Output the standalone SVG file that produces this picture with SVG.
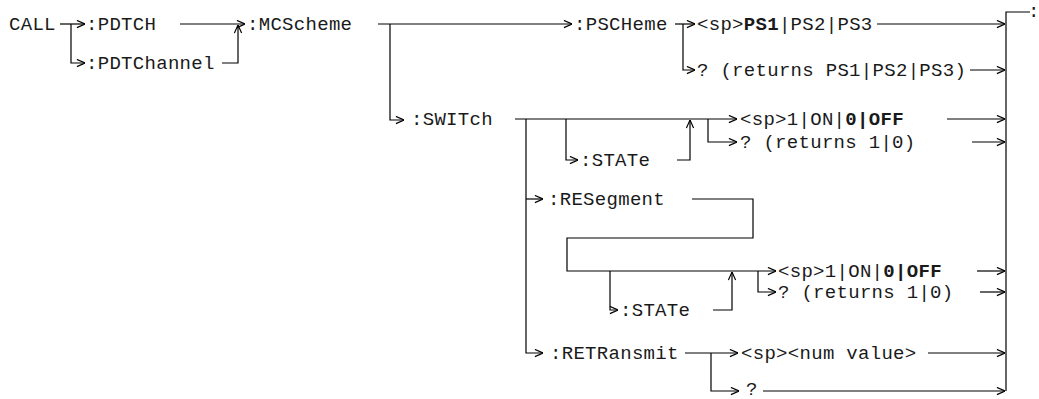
<svg xmlns="http://www.w3.org/2000/svg" width="1039" height="399" viewBox="0 0 1039 399">
<style>
text{font-family:"Liberation Mono","Courier New",monospace;font-size:19px;letter-spacing:0.3px;fill:#1a1a1a}
.b{font-weight:bold}
.c{fill:none;stroke:#000;stroke-width:1.2}
.a{marker-end:url(#ah)}
</style>
<defs>
<marker id="ah" viewBox="0 0 10 10" refX="10" refY="5" markerWidth="9" markerHeight="9" markerUnits="userSpaceOnUse" orient="auto">
<path d="M1,1 L10,5 L1,9" fill="none" stroke="#000" stroke-width="1.3"/>
</marker>
</defs>
<rect width="1039" height="399" fill="#fff"/>
<g id="connectors">
<line class="c a" x1="60" y1="24" x2="85" y2="24"/>
<polyline class="c a" points="71,24 71,63 85,63"/>
<line class="c a" x1="180" y1="24" x2="245" y2="24"/>
<polyline class="c a" points="222,63 238,63 238,25"/>
<line class="c a" x1="378" y1="24" x2="572" y2="24"/>
<polyline class="c a" points="390,24 390,120 404,120"/>
<line class="c a" x1="675" y1="24" x2="695" y2="24"/>
<polyline class="c a" points="683,24 683,70 695,70"/>
<line class="c a" x1="877" y1="24" x2="1005" y2="24"/>
<line class="c a" x1="970" y1="70" x2="1005" y2="70"/>
<polyline class="c" points="1030,12 1006,12 1006,391"/>
<line class="c a" x1="515" y1="119" x2="737" y2="119"/>
<polyline class="c a" points="566,119 566,160 578,160"/>
<polyline class="c a" points="677,160 690,160 690,120"/>
<polyline class="c a" points="708,119 708,142 737,142"/>
<line class="c a" x1="947" y1="119" x2="1005" y2="119"/>
<line class="c a" x1="972" y1="142" x2="1005" y2="142"/>
<polyline class="c a" points="526,119 526,353 543,353"/>
<polyline class="c a" points="526,199 543,199"/>
<polyline class="c a" points="692,199 753,199 753,238 567,238 567,271 776,271"/>
<polyline class="c a" points="610,271 610,310 618,310"/>
<polyline class="c a" points="713,310 732,310 732,272"/>
<polyline class="c a" points="758,271 758,292 776,292"/>
<line class="c a" x1="977" y1="271" x2="1005" y2="271"/>
<line class="c a" x1="980" y1="292" x2="1005" y2="292"/>
<line class="c a" x1="685" y1="353" x2="738" y2="353"/>
<line class="c a" x1="928" y1="353" x2="1005" y2="353"/>
<polyline class="c a" points="711,353 711,391 739,391"/>
<line class="c a" x1="763" y1="391" x2="1005" y2="391"/>
</g>
<g id="call"><text x="9" y="30">CALL</text></g>
<g id="pdtch"><text x="86" y="30">:PDTCH</text></g>
<g id="pdtchannel"><text x="86" y="69">:PDTChannel</text></g>
<g id="mcscheme"><text x="247" y="30">:MCScheme</text></g>
<g id="pscheme"><text x="574" y="30">:PSCHeme</text></g>
<g id="ps-set"><text x="697" y="30">&lt;sp&gt;<tspan class="b">PS1</tspan>|PS2|PS3</text></g>
<g id="ps-query"><text x="697" y="76">? (returns PS1|PS2|PS3)</text></g>
<g id="switch"><text x="411" y="125">:SWITch</text></g>
<g id="switch-state"><text x="580" y="166">:STATe</text></g>
<g id="switch-set"><text x="740" y="125">&lt;sp&gt;1|ON|<tspan class="b">0|OFF</tspan></text></g>
<g id="switch-query"><text x="740" y="148">? (returns 1|0)</text></g>
<g id="resegment"><text x="548" y="205">:RESegment</text></g>
<g id="reseg-set"><text x="778" y="277">&lt;sp&gt;1|ON|<tspan class="b">0|OFF</tspan></text></g>
<g id="reseg-query"><text x="778" y="298">? (returns 1|0)</text></g>
<g id="reseg-state"><text x="620" y="316">:STATe</text></g>
<g id="retransmit"><text x="550" y="359">:RETRansmit</text></g>
<g id="retr-set"><text x="741" y="359">&lt;sp&gt;&lt;num value&gt;</text></g>
<g id="retr-query"><text x="746" y="395">?</text></g>
<g id="edge-mark"><text x="1028" y="17">:</text></g>
</svg>
